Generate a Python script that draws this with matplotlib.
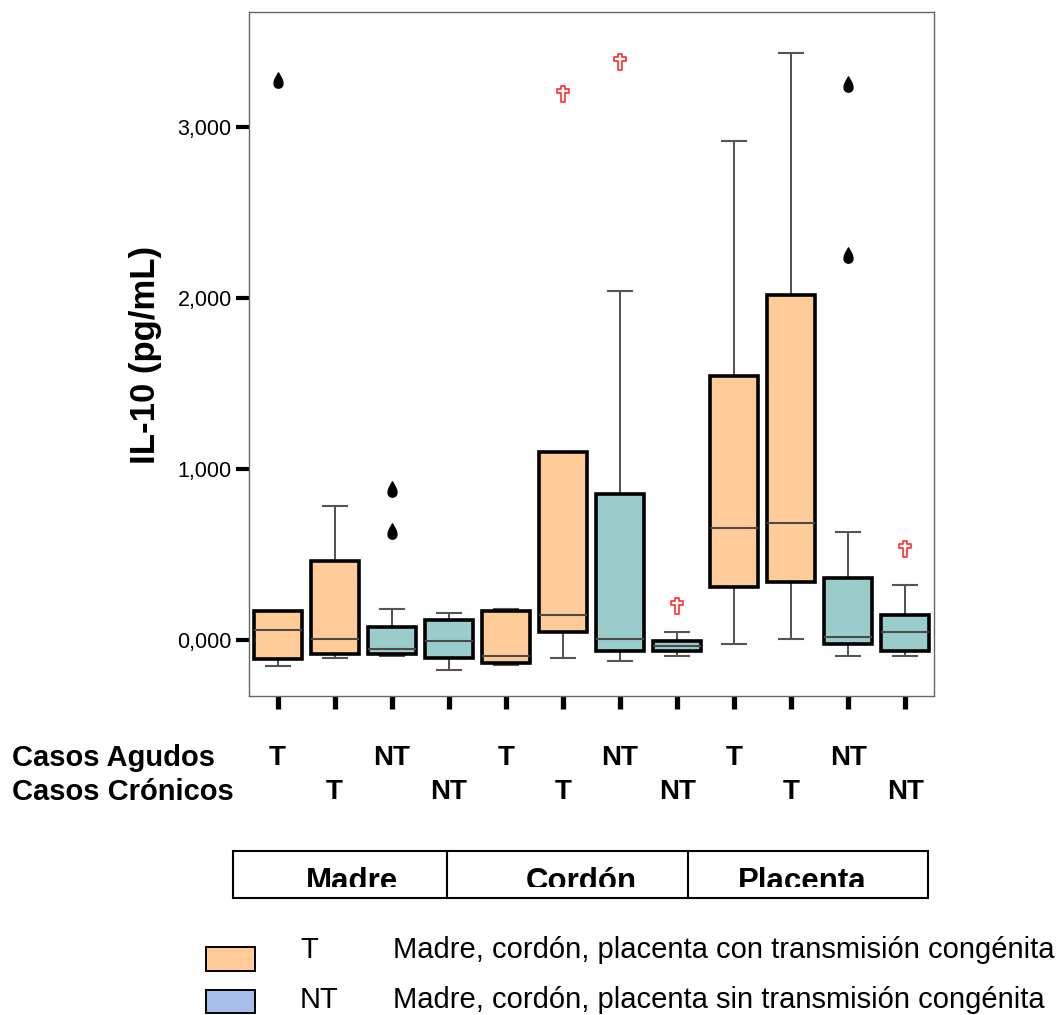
import numpy as np
import matplotlib
matplotlib.use('Agg')
import matplotlib.pyplot as plt
import matplotlib.transforms as mtransforms
from matplotlib.path import Path
from matplotlib.patches import Rectangle

plt.rcParams['font.family'] = ['Liberation Sans', 'DejaVu Sans']

# ---- data ----
grupos = ['Madre', 'Cordón', 'Placenta']
tipo = ['T', 'T', 'NT', 'NT', 'T', 'T', 'NT', 'NT', 'T', 'T', 'NT', 'NT']
agudos = ['T', '', 'NT', '', 'T', '', 'NT', '', 'T', '', 'NT', '']
cronicos = ['', 'T', '', 'NT', '', 'T', '', 'NT', '', 'T', '', 'NT']

q1 = [-109, -80, -80, -107, -135, 47, -64, -66, 308, 337, -23, -66]
med = [60, 4, -53, -8, -92, 144, 4, -37, 657, 684, 20, 49]
q3 = [171, 462, 74, 115, 170, 1101, 854, -8, 1544, 2018, 364, 144]
whislo = [-150, -107, -94, -175, -148, -107, -121, -94, -23, 4, -92, -92]
whishi = [171, 782, 183, 158, 183, 1101, 2041, 45, 2918, 3433, 630, 324]

# outliers (black drops) and extremes (red crosses), keyed by box number
outliers = {1: [3275], 3: [881, 637], 11: [3251, 2251]}
extremos = {6: [3193], 7: [3380], 8: [201], 12: [535]}

ytick_vals = [0, 1000, 2000, 3000]
ytick_labels = ['0,000', '1,000', '2,000', '3,000']

leyenda = [('T', 'Madre, cordón, placenta con transmisión congénita', '#FFCC99'),
           ('NT', 'Madre, cordón, placenta sin transmisión congénita', '#A6BDEA')]

colores = {'T': '#FFCC99', 'NT': '#9ACCCB'}

# ---- marker shapes ----
t = np.linspace(0, 2 * np.pi, 80)
drop = Path(np.column_stack([0.8 * np.sin(t) * np.sin(t / 2) ** 1.3, np.cos(t)]), closed=True)
cross = Path([(-0.22, 1), (0.22, 1), (0.22, 0.58), (0.8, 0.58), (0.8, 0.15), (0.22, 0.15),
              (0.22, -1), (-0.22, -1), (-0.22, 0.15), (-0.8, 0.15), (-0.8, 0.58), (-0.22, 0.58),
              (-0.22, 1)], closed=True)

fig = plt.figure(figsize=(10.63, 10.15), dpi=100)
ax = fig.add_axes([249 / 1063, 1 - 696 / 1015, 685 / 1063, 684 / 1015])

pos = np.arange(1, len(q1) + 1)
stats = [dict(med=m, q1=a, q3=b, whislo=lo, whishi=hi, fliers=[])
         for m, a, b, lo, hi in zip(med, q1, q3, whislo, whishi)]
bp = ax.bxp(stats, positions=pos, widths=0.84, capwidths=0.42, patch_artist=True,
            showfliers=False,
            boxprops=dict(linewidth=2.6, edgecolor='black', zorder=3),
            whiskerprops=dict(linewidth=1.1, color='#222222', zorder=2),
            capprops=dict(linewidth=1.5, color='#555555', zorder=2),
            medianprops=dict(linewidth=1.5, color='#4a4a4a', zorder=4))
for box, tp in zip(bp['boxes'], tipo):
    box.set_facecolor(colores[tp])

for k, vals in outliers.items():
    ax.plot([k] * len(vals), vals, linestyle='none', marker=drop, ms=11,
            color='black', zorder=5)
for k, vals in extremos.items():
    ax.plot([k] * len(vals), vals, linestyle='none', marker=cross, ms=11.5,
            markerfacecolor='white', markeredgecolor='#ff3b3b', markeredgewidth=1.3, zorder=5)

ax.set_xlim(0.5, len(q1) + 0.5)
ax.set_ylim(-327, 3672)
ax.set_yticks(ytick_vals)
ax.set_yticklabels(ytick_labels)
ax.set_xticks(pos)
ax.tick_params(axis='y', length=9.5, width=3, pad=3, labelsize=15.5, color='black')
ax.tick_params(axis='x', length=9, width=3.8, labelbottom=False, color='black')
for sp in ax.spines.values():
    sp.set_color('#666666')
    sp.set_linewidth(1)

fig.text(146 / 1063, 1 - 355 / 1015, 'IL-10 (pg/mL)', rotation=90, ha='center', va='center',
         fontsize=25, fontweight='bold')

# ---- case labels below the axis ----
trans = mtransforms.blended_transform_factory(ax.transData, fig.transFigure)
y_ag = 1 - 758 / 1015
y_cr = 1 - 792 / 1015
fig.text(12 / 1063, y_ag, 'Casos Agudos', ha='left', va='center', fontsize=21, fontweight='bold')
fig.text(12 / 1063, y_cr, 'Casos Crónicos', ha='left', va='center', fontsize=21, fontweight='bold')
for p, a, c in zip(pos, agudos, cronicos):
    if a:
        ax.text(p, y_ag, a, transform=trans, ha='center', va='center', fontsize=20, fontweight='bold')
    if c:
        ax.text(p, y_cr, c, transform=trans, ha='center', va='center', fontsize=20, fontweight='bold')

# ---- group table ----
x0, x1 = 233 / 1063, 928 / 1063
ty0, ty1 = 1 - 898 / 1015, 1 - 851 / 1015
fig.add_artist(Rectangle((x0, ty0), x1 - x0, ty1 - ty0, transform=fig.transFigure,
                         facecolor='none', edgecolor='black', linewidth=1.5))
for xd in [447 / 1063, 688 / 1063]:
    fig.add_artist(plt.Line2D([xd, xd], [ty0, ty1], transform=fig.transFigure,
                              color='black', linewidth=1.5))
clip = Rectangle((x0, 1 - 887 / 1015), x1 - x0, 36 / 1015, transform=fig.transFigure,
                 facecolor='none', edgecolor='none')
fig.add_artist(clip)
for g, xc in zip(grupos, [352, 581, 802]):
    txt = fig.text(xc / 1063, 1 - 890 / 1015, g, ha='center', va='baseline',
                   fontsize=22.5, fontweight='bold')
    txt.set_clip_path(clip)

# ---- legend ----
for (lab, desc, col), yc, yb, h in zip(leyenda, [950, 1000], [971, 1013], [24, 23]):
    fig.add_artist(Rectangle((206 / 1063, 1 - yb / 1015), 49 / 1063, h / 1015,
                             transform=fig.transFigure, facecolor=col,
                             edgecolor='black', linewidth=1.4))
    fig.text(300 / 1063, 1 - yc / 1015, lab, ha='left', va='center', fontsize=21)
    fig.text(393 / 1063, 1 - yc / 1015, desc, ha='left', va='center', fontsize=21)

fig.savefig('out.png', dpi=100)
